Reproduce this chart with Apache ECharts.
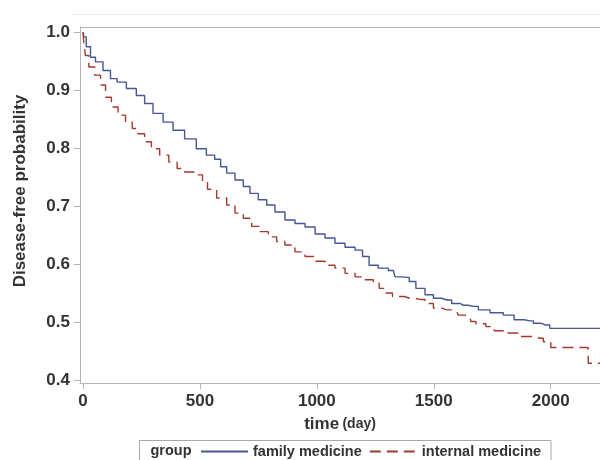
<!DOCTYPE html>
<html>
<head>
<meta charset="utf-8">
<script src="https://cdn.jsdelivr.net/npm/echarts@6/dist/echarts.min.js"></script>
<style>html,body{margin:0;padding:0;background:#fff;}#c{width:600px;height:460px;}</style>
</head>
<body>
<div id="c"></div>
<script>
var FONT = "'Liberation Sans', Arial, sans-serif";
var seriesNames = ['family medicine', 'internal medicine'];
var xTicks = [0, 500, 1000, 1500, 2000];
var yTicks = [0.4, 0.5, 0.6, 0.7, 0.8, 0.9, 1.0];

var famTime = [0,1,7,21,43,64,107,128,164,207,249,278,321,364,406,463,506,549,577,600,629,671,700,728,771,800,842,885,928,971,1014,1056,1099,1142,1185,1206,1241,1284,1327,1342,1384,1406,1441,1484,1513,1555,1598,1626,1669,1712,1769,1826,1861,1912,1940,1976,1996,1997,2215];
var famSurv = [1.0,1.0,0.992,0.975,0.957,0.949,0.934,0.920,0.914,0.903,0.891,0.877,0.860,0.845,0.831,0.816,0.799,0.788,0.781,0.768,0.757,0.745,0.734,0.722,0.711,0.702,0.690,0.676,0.670,0.664,0.652,0.645,0.636,0.629,0.624,0.613,0.598,0.593,0.589,0.578,0.577,0.570,0.558,0.547,0.541,0.538,0.532,0.529,0.527,0.521,0.516,0.512,0.504,0.502,0.498,0.495,0.495,0.489,0.489];

var intTime = [0,1,7,14,36,64,86,107,136,164,200,221,249,278,307,349,385,420,449,500,522,543,600,629,671,700,743,771,814,842,885,928,971,1014,1056,1099,1142,1185,1227,1256,1277,1299,1348,1398,1441,1484,1513,1555,1598,1612,1655,1662,1698,1748,1769,1855,1890,1954,1983,2018,2160,2161,2215];
var intSurv = [1.0,1.0,0.980,0.960,0.940,0.926,0.909,0.888,0.871,0.857,0.845,0.834,0.825,0.811,0.799,0.788,0.776,0.765,0.759,0.754,0.742,0.729,0.714,0.702,0.688,0.679,0.665,0.656,0.647,0.639,0.633,0.621,0.613,0.605,0.598,0.593,0.584,0.578,0.573,0.567,0.558,0.550,0.544,0.541,0.539,0.532,0.524,0.521,0.518,0.512,0.509,0.501,0.497,0.492,0.485,0.481,0.475,0.472,0.466,0.456,0.456,0.429,0.429];

function pairs(t, s) { return t.map(function (v, i) { return [v, s[i]]; }); }

var chart = echarts.init(document.getElementById('c'), null, { renderer: 'canvas' });
chart.setOption({
  animation: false,
  backgroundColor: '#ffffff',
  textStyle: { fontFamily: FONT },
  grid: { left: 80, right: 0, top: 27, bottom: 77, containLabel: false },
  xAxis: {
    type: 'value', min: -12.8, max: 2210.8,
    name: '{t|time} {d|(day)}', nameLocation: 'middle', nameGap: 33,
    nameTextStyle: {
      rich: {
        t: { fontFamily: FONT, fontWeight: 'bold', fontSize: 17, color: '#333' },
        d: { fontFamily: FONT, fontWeight: 'bold', fontSize: 14, color: '#333' }
      }
    },
    axisLine: { show: true, onZero: false, lineStyle: { color: '#b4b4b4', width: 1 } },
    axisTick: { show: true, length: 6, customValues: xTicks, lineStyle: { color: '#b4b4b4' } },
    axisLabel: { customValues: xTicks, margin: 10, fontFamily: FONT, fontWeight: 'bold', fontSize: 17, color: '#333',
      formatter: function (v) { return String(Math.round(v)); } },
    splitLine: { show: false }
  },
  yAxis: {
    type: 'value', min: 0.3948, max: 1.0091,
    axisLine: { show: true, onZero: false, lineStyle: { color: '#b4b4b4', width: 1 } },
    axisTick: { show: true, length: 6, customValues: yTicks, lineStyle: { color: '#b4b4b4' } },
    axisLabel: { customValues: yTicks, margin: 10, fontFamily: FONT, fontWeight: 'bold', fontSize: 17, color: '#333',
      formatter: function (v) { return v.toFixed(1); } },
    splitLine: { show: false }
  },
  legend: {
    left: 200, top: 444, padding: 0, itemWidth: 47, itemHeight: 14, itemGap: 7,
    data: seriesNames,
    itemStyle: { opacity: 0, borderWidth: 0 },
    textStyle: { fontFamily: FONT, fontWeight: 'bold', fontSize: 14.5, color: '#333' }
  },
  graphic: [
    { type: 'line', shape: { x1: 73, y1: 14.5, x2: 600, y2: 14.5 }, style: { stroke: '#ececec', lineWidth: 1 }, silent: true },
    { type: 'line', shape: { x1: 80, y1: 27.5, x2: 600, y2: 27.5 }, style: { stroke: '#b4b4b4', lineWidth: 1 }, silent: true },
    { type: 'rect', shape: { x: 139.5, y: 440.5, width: 411.5, height: 40 }, style: { fill: 'none', stroke: '#a8a8a8', lineWidth: 1 }, silent: true },
    { type: 'text', x: 150.5, y: 451, style: { text: 'group', font: 'bold 14.5px ' + FONT, fill: '#333', align: 'left', verticalAlign: 'middle' }, silent: true },
    { type: 'text', x: 20, y: 191, rotation: Math.PI / 2,
      style: { text: 'Disease-free probability', font: 'bold 17px ' + FONT, fill: '#333', align: 'center', verticalAlign: 'middle' }, silent: true }
  ],
  series: [
    { name: seriesNames[0], type: 'line', step: 'middle', symbol: 'none', data: pairs(famTime, famSurv),
      lineStyle: { color: '#445694', width: 1.4 }, itemStyle: { color: '#445694' } },
    { name: seriesNames[1], type: 'line', step: 'middle', symbol: 'none', data: pairs(intTime, intSurv),
      lineStyle: { color: '#A23A2E', width: 1.4, type: [11, 6] }, itemStyle: { color: '#A23A2E' } }
  ]
});
</script>
</body>
</html>
